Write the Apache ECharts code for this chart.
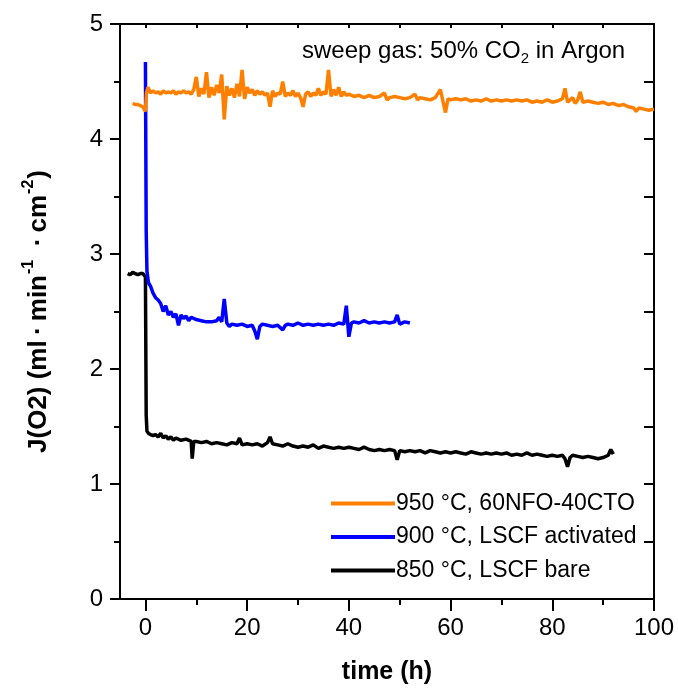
<!DOCTYPE html>
<html>
<head>
<meta charset="utf-8">
<script src="https://cdn.jsdelivr.net/npm/echarts@6/dist/echarts.min.js"></script>
<style>
  html, body { margin: 0; padding: 0; background: #fff; }
  #chart { width: 678px; height: 690px; }
</style>
</head>
<body>
<div id="chart"></div>
<script>
// 950 C, 60NFO-40CTO
const orangeTime = [-2.5, -2, -1.5, -1, -0.5, -0.2, 0, 0.2, 0.5, 1, 1.5, 2, 2.5, 3, 3.5, 4, 4.5, 5, 5.5, 6, 6.5, 7, 7.5, 8, 8.5, 9, 9.5,
  10, 10.5, 11, 11.5, 12, 12.5, 13, 13.5, 14, 14.5, 15, 15.5, 16, 16.5, 17, 17.5, 18, 18.5, 19, 19.5,
  20, 20.5, 21, 21.5, 22, 22.5, 23, 23.5, 24, 24.5, 25, 25.5, 26, 26.5, 27, 27.5, 28, 28.5, 29, 29.5,
  30, 30.5, 31, 31.5, 32, 32.5, 33, 33.5, 34, 34.5, 35, 35.5, 36, 36.5, 37, 37.5, 38, 38.5, 39, 39.5,
  40, 41, 42, 43, 44, 45, 46, 47, 47.5, 48, 49, 50, 51, 52, 53, 53.5, 54, 55, 56, 57, 58, 58.5, 59, 59.5,
  60, 61, 62, 63, 64, 65, 66, 67, 68, 69, 70, 71, 72, 73, 74, 75, 76, 77, 78, 79,
  80, 81, 82, 82.5, 83, 84, 84.5, 85, 85.5, 86, 87, 88, 89, 90, 91, 92, 93, 94, 95, 96, 96.5, 97, 98, 99, 100];
const orangeJ = [4.31, 4.30, 4.30, 4.29, 4.28, 4.27, 4.24, 4.40, 4.45, 4.40, 4.42, 4.40, 4.41, 4.39, 4.42, 4.40, 4.41, 4.40, 4.42, 4.39, 4.41, 4.40, 4.42, 4.40, 4.41, 4.39, 4.43,
  4.54, 4.37, 4.44, 4.39, 4.58, 4.36, 4.45, 4.38, 4.47, 4.40, 4.56, 4.17, 4.46, 4.38, 4.44, 4.36, 4.48, 4.37, 4.60, 4.35,
  4.45, 4.40, 4.43, 4.38, 4.42, 4.39, 4.41, 4.38, 4.40, 4.28, 4.42, 4.37, 4.40, 4.39, 4.50, 4.37, 4.40, 4.38, 4.42, 4.37,
  4.40, 4.36, 4.28, 4.39, 4.41, 4.37, 4.40, 4.38, 4.44, 4.38, 4.41, 4.39, 4.60, 4.37, 4.43, 4.38, 4.45, 4.37, 4.41, 4.38,
  4.39, 4.37, 4.38, 4.36, 4.38, 4.36, 4.37, 4.40, 4.34, 4.36, 4.37, 4.36, 4.35, 4.36, 4.39, 4.34, 4.36, 4.35, 4.34, 4.36, 4.43, 4.33, 4.23, 4.35,
  4.34, 4.35, 4.34, 4.35, 4.33, 4.34, 4.33, 4.35, 4.33, 4.34, 4.33, 4.34, 4.33, 4.34, 4.33, 4.34, 4.32, 4.33, 4.32, 4.34,
  4.32, 4.33, 4.35, 4.44, 4.32, 4.36, 4.31, 4.34, 4.41, 4.32, 4.33, 4.32, 4.31, 4.32, 4.30, 4.31, 4.29, 4.30, 4.28, 4.27, 4.24, 4.27, 4.26, 4.25, 4.26];

// 900 C, LSCF activated
const blueTime = [0, 0.15, 0.3, 0.6, 1, 1.5, 2, 2.5, 3, 3.5, 4, 4.5, 5, 5.5, 6, 6.5, 7, 7.5, 8, 8.5, 9, 10,
  11, 12, 13, 14, 14.5, 15, 15.5, 16, 16.5, 17, 18, 19, 20, 21, 21.5, 22, 22.5, 23, 24, 25, 26, 27, 27.5, 28, 29,
  30, 31, 32, 33, 34, 35, 36, 37, 38, 39, 39.5, 40, 40.5, 41, 42, 43, 44, 45, 46, 47, 48, 49, 49.5, 50, 51, 52];
const blueJ = [4.67, 3.20, 2.85, 2.75, 2.72, 2.66, 2.62, 2.60, 2.57, 2.50, 2.55, 2.47, 2.50, 2.45, 2.48, 2.38, 2.47, 2.44, 2.46, 2.42, 2.45, 2.43,
  2.42, 2.41, 2.41, 2.42, 2.45, 2.41, 2.61, 2.40, 2.37, 2.39, 2.38, 2.39, 2.37, 2.38, 2.33, 2.26, 2.37, 2.39, 2.38, 2.37, 2.38, 2.34, 2.38, 2.39, 2.38,
  2.40, 2.38, 2.39, 2.38, 2.39, 2.38, 2.39, 2.38, 2.40, 2.39, 2.55, 2.28, 2.40, 2.41, 2.40, 2.42, 2.40, 2.41, 2.40, 2.41, 2.40, 2.41, 2.47, 2.39, 2.41, 2.40];

// 850 C, LSCF bare
const blackTime = [-3.5, -3, -2.5, -2, -1.5, -1, -0.5, -0.2, 0, 0.15, 0.3, 0.6, 1, 1.5, 2, 2.5, 3, 3.5, 4, 4.5, 5, 5.5, 6, 7, 8, 9, 9.2, 9.5,
  10, 11, 12, 13, 14, 15, 16, 17, 18, 18.5, 19, 20, 21, 22, 23, 24, 24.5, 25, 26, 27, 28, 29,
  30, 31, 32, 33, 34, 35, 36, 37, 38, 39, 40, 41, 42, 43, 44, 45, 46, 47, 48, 49, 49.5, 50,
  51, 52, 53, 54, 55, 56, 57, 58, 59, 60, 61, 62, 63, 64, 65, 66, 67, 68, 69, 70, 71, 72, 73, 74, 75, 76, 77, 78, 79,
  80, 81, 82, 82.5, 83, 83.5, 84, 85, 86, 87, 88, 89, 90, 91, 91.5, 92];
const blackJ = [2.83, 2.82, 2.84, 2.83, 2.82, 2.83, 2.83, 2.82, 2.80, 1.60, 1.46, 1.44, 1.43, 1.42, 1.43, 1.41, 1.44, 1.40, 1.42, 1.39, 1.41, 1.38, 1.40, 1.38, 1.39, 1.37, 1.22, 1.37,
  1.37, 1.36, 1.37, 1.35, 1.36, 1.35, 1.34, 1.36, 1.35, 1.40, 1.34, 1.35, 1.34, 1.35, 1.33, 1.36, 1.41, 1.35, 1.34, 1.33, 1.35, 1.33,
  1.32, 1.33, 1.32, 1.34, 1.31, 1.33, 1.32, 1.31, 1.32, 1.31, 1.32, 1.31, 1.30, 1.32, 1.30, 1.29, 1.30, 1.29, 1.30, 1.29, 1.21, 1.29,
  1.28, 1.29, 1.28, 1.29, 1.27, 1.29, 1.28, 1.27, 1.28, 1.27, 1.28, 1.27, 1.26, 1.28, 1.27, 1.26, 1.27, 1.26, 1.27, 1.26, 1.27, 1.25, 1.26, 1.25, 1.27, 1.25, 1.26, 1.25, 1.24,
  1.25, 1.24, 1.25, 1.22, 1.15, 1.23, 1.25, 1.24, 1.23, 1.24, 1.23, 1.22, 1.23, 1.25, 1.30, 1.26];

const seriesNames = ['950 °C, 60NFO-40CTO', '900 °C, LSCF activated', '850 °C, LSCF bare'];
const xMajorTicks = [0, 20, 40, 60, 80, 100];
const xMinorTicks = [10, 30, 50, 70, 90];
const xTopTicks = [0, 10, 20, 30, 40, 50, 60, 70, 80, 90, 100];

const pairs = (t, v) => t.map((x, i) => [x, v[i]]);

const font = 'Liberation Sans, Arial, sans-serif';
const chart = echarts.init(document.getElementById('chart'));

const blackLine = { onZero: false, lineStyle: { color: '#000', width: 2 } };
const baseX = {
  type: 'value', min: -5, max: 100, gridIndex: 0,
  splitLine: { show: false },
  axisLine: blackLine
};

chart.setOption({
  animation: false,
  backgroundColor: '#fff',
  textStyle: { fontFamily: font },
  title: {
    text: 'sweep gas: 50% CO{sub|2} in Argon',
    left: 297, top: 32,
    textStyle: {
      fontFamily: font, fontSize: 24, fontWeight: 'normal', color: '#000',
      rich: { sub: { fontFamily: font, fontSize: 15, verticalAlign: 'bottom', padding: [14, 0, 0, 0] } }
    }
  },
  grid: { left: 120, right: 24, top: 24, bottom: 90 },
  legend: {
    data: seriesNames,
    orient: 'vertical',
    left: 326, top: 487,
    icon: 'rect',
    itemWidth: 64, itemHeight: 4, itemGap: 10.5,
    textStyle: { fontFamily: font, fontSize: 23, color: '#000', padding: [0, 0, 0, -4] }
  },
  xAxis: [
    Object.assign({}, baseX, {
      position: 'bottom',
      name: 'time (h)', nameLocation: 'middle', nameGap: 61,
      nameTextStyle: { fontFamily: font, fontSize: 25, fontWeight: 'bold', color: '#000' },
      axisTick: { customValues: xMajorTicks, length: 12, lineStyle: { color: '#000', width: 2 } },
      axisLabel: { customValues: xMajorTicks, margin: 17, fontSize: 24, color: '#000', fontFamily: font }
    }),
    Object.assign({}, baseX, {
      position: 'bottom', offset: 0,
      axisLine: { show: false, onZero: false },
      axisTick: { customValues: xMinorTicks, length: 6, lineStyle: { color: '#000', width: 2 } },
      axisLabel: { show: false }
    }),
    Object.assign({}, baseX, {
      position: 'top',
      axisTick: { customValues: xTopTicks, inside: true, length: 4, lineStyle: { color: '#000', width: 2 } },
      axisLabel: { show: false }
    })
  ],
  yAxis: [
    {
      type: 'value', min: 0, max: 5, interval: 1, position: 'left',
      name: 'J(O2) (ml\u2009·\u2009min{sup|-1}\u2009 ·\u2009cm{sup|-2})',
      nameLocation: 'middle', nameGap: 64, nameRotate: 90,
      nameTextStyle: {
        fontFamily: font, fontSize: 26, fontWeight: 'bold', color: '#000',
        rich: { sup: { fontFamily: font, fontSize: 16, fontWeight: 'bold', verticalAlign: 'top', padding: [0, 1, 19, 1] } }
      },
      splitLine: { show: false },
      axisLine: blackLine,
      axisTick: { length: 10, lineStyle: { color: '#000', width: 2 } },
      minorTick: { show: true, splitNumber: 2, length: 6, lineStyle: { color: '#000', width: 2 } },
      axisLabel: { margin: 17, fontSize: 24, color: '#000', fontFamily: font }
    },
    {
      type: 'value', min: 0, max: 5, interval: 0.5, position: 'right',
      splitLine: { show: false },
      axisLine: blackLine,
      axisTick: { inside: true, length: 10, lineStyle: { color: '#000', width: 2 } },
      axisLabel: { show: false }
    }
  ],
  series: [
    {
      name: seriesNames[2], type: 'line', showSymbol: false, data: pairs(blackTime, blackJ),
      itemStyle: { color: '#000000' }, lineStyle: { color: '#000000', width: 3.5 }
    },
    {
      name: seriesNames[1], type: 'line', showSymbol: false, data: pairs(blueTime, blueJ),
      itemStyle: { color: '#0000ff' }, lineStyle: { color: '#0000ff', width: 3.5 }
    },
    {
      name: seriesNames[0], type: 'line', showSymbol: false, data: pairs(orangeTime, orangeJ),
      itemStyle: { color: '#ff8000' }, lineStyle: { color: '#ff8000', width: 3.5 }
    }
  ]
});
</script>
</body>
</html>
